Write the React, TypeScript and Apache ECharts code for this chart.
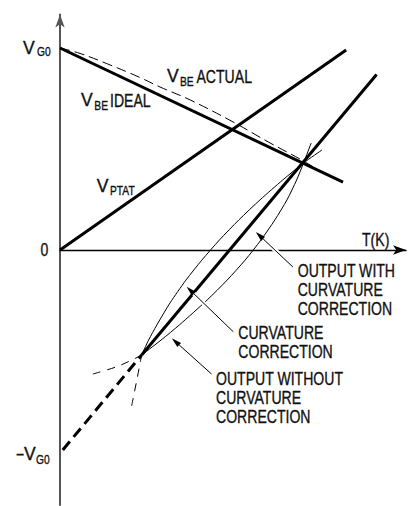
import React, { useEffect, useRef } from "react";
import * as echarts from "echarts";

// ---- data (T in normalised kelvin units, V in units of VG0) ----
const vbeIdeal = [[0, 1.0], [0.818, 0.336]];
const vptat = [[0, 0], [0.827, 0.99]];
const vbeActual = [
  [0, 1.0], [0.058, 0.973], [0.145, 0.916], [0.231, 0.854], [0.289, 0.807],
  [0.376, 0.743], [0.5, 0.634], [0.607, 0.53], [0.694, 0.45], [0.737, 0.406],
];
const outputExtrapolated = [[0.008, -0.99], [0.236, -0.52]];
const outputCorrected = [[0.236, -0.52], [0.915, 0.869]];
const correctionCurve = [
  [0.236, -0.52], [0.256, -0.446], [0.28, -0.371], [0.318, -0.262], [0.364, -0.149],
  [0.41, -0.05], [0.461, 0.05], [0.517, 0.149], [0.578, 0.248], [0.644, 0.347],
  [0.704, 0.431], [0.757, 0.495],
];
const correctionExtrapolated = [[0.207, -0.772], [0.222, -0.644], [0.236, -0.52]];
const uncorrectedCurve = [
  [0.236, -0.52], [0.292, -0.446], [0.345, -0.371], [0.425, -0.248], [0.483, -0.149],
  [0.535, -0.05], [0.581, 0.05], [0.621, 0.149], [0.656, 0.248], [0.684, 0.347],
  [0.704, 0.431], [0.726, 0.53],
];
const uncorrectedExtrapolated = [[0.095, -0.614], [0.164, -0.578], [0.212, -0.541], [0.236, -0.52]];
// arrows: [fromT, fromV, toT, toV]
const arrows = [
  [0.673, -0.084, 0.566, 0.089],
  [0.501, -0.405, 0.366, -0.182],
  [0.438, -0.614, 0.323, -0.437],
];

const axisMin = { t: 0, v: -1.262 };
const axisMax = { t: 1, v: 1.166 };

const labelOutputWith = ["OUTPUT WITH", "CURVATURE", "CORRECTION"];
const labelCorrection = ["CURVATURE", "CORRECTION"];
const labelOutputWithout = ["OUTPUT WITHOUT", "CURVATURE", "CORRECTION"];

const FONT = "'Liberation Sans', Arial, sans-serif";
const INK = "#111";
const NARROW = 0.76;
const MAIN = 18.5;
const SUB = 13.5;

function txt(text: string, x: number, y: number, size = MAIN, sx = NARROW, extra: any = {}) {
  return {
    type: "text",
    x,
    y,
    scaleX: sx,
    z: 20,
    style: {
      text,
      fill: INK,
      stroke: INK,
      lineWidth: 0.35,
      fontFamily: FONT,
      fontSize: size,
      align: "left",
      verticalAlign: "middle",
      ...extra,
    },
  };
}

function multi(lines: string[], x: number, firstCenter: number) {
  const lh = 19.2;
  return txt(lines.join("\n"), x, firstCenter - lh / 2, MAIN, NARROW, { verticalAlign: "top", lineHeight: lh });
}

export default function App() {
  const ref = useRef<HTMLDivElement>(null);
  useEffect(() => {
    if (!ref.current) return;
    const chart = echarts.init(ref.current, null, { renderer: "svg" });
    const thin = (dash: any) => ({ color: "#000", width: 1, type: dash });
    const lineS = (data: number[][], style: any, smooth: number | boolean = false) => ({
      type: "line",
      data,
      symbol: "none",
      smooth,
      silent: true,
      lineStyle: style,
      z: 3,
    });
    chart.setOption({
      animation: false,
      backgroundColor: "#fff",
      grid: { left: 60, top: 14.47, width: 346, height: 490.46, containLabel: false },
      xAxis: {
        type: "value",
        min: axisMin.t,
        max: axisMax.t,
        axisLine: {
          show: true,
          onZero: true,
          lineStyle: { color: "#000", width: 1.3 },
          symbol: ["none", "arrow"],
          symbolSize: [7, 13],
        },
        axisTick: { show: false },
        axisLabel: { show: false },
        splitLine: { show: false },
      },
      yAxis: {
        type: "value",
        min: axisMin.v,
        max: axisMax.v,
        axisLine: {
          show: true,
          onZero: false,
          lineStyle: { color: "#555", width: 2 },
          symbol: ["none", "arrow"],
          symbolSize: [7, 13],
        },
        axisTick: { show: false },
        axisLabel: { show: false },
        splitLine: { show: false },
      },
      series: [
        lineS(vbeActual, thin([10, 5]), 0.4),
        lineS(vbeIdeal, { color: "#000", width: 3 }),
        lineS(vptat, { color: "#000", width: 3 }),
        lineS(correctionCurve, thin("solid"), 0.25),
        lineS(correctionExtrapolated, thin([8, 7]), 0.25),
        lineS(uncorrectedCurve, thin("solid"), 0.25),
        lineS(uncorrectedExtrapolated, thin([8, 7]), 0.25),
        lineS(outputExtrapolated, { color: "#000", width: 3, type: [11, 6] }),
        lineS(outputCorrected, { color: "#000", width: 3 }),
        {
          type: "custom",
          silent: true,
          z: 10,
          data: arrows,
          renderItem: (params: any, api: any) => {
            const p1 = api.coord([api.value(0), api.value(1)]);
            const p2 = api.coord([api.value(2), api.value(3)]);
            const dx = p2[0] - p1[0];
            const dy = p2[1] - p1[1];
            const len = Math.hypot(dx, dy);
            const ux = dx / len;
            const uy = dy / len;
            const hl = 10;
            const hw = 2.8;
            const bx = p2[0] - ux * hl;
            const by = p2[1] - uy * hl;
            const nx = -uy;
            const ny = ux;
            return {
              type: "group",
              children: [
                { type: "line", shape: { x1: p1[0], y1: p1[1], x2: bx, y2: by }, style: { stroke: "#fff", lineWidth: 4.5 } },
                { type: "line", shape: { x1: p1[0], y1: p1[1], x2: bx, y2: by }, style: { stroke: "#000", lineWidth: 1 } },
                {
                  type: "polygon",
                  shape: { points: [[p2[0], p2[1]], [bx + nx * hw, by + ny * hw], [bx - nx * hw, by - ny * hw]] },
                  style: { fill: "#000" },
                },
              ],
            };
          },
        },
      ],
      graphic: [
        txt("V", 23, 47.5, MAIN, 0.95),
        txt("G0", 37, 51.5, SUB),
        txt("0", 40.5, 249),
        txt("T(K)", 362, 239.5),
        txt("V", 167, 76.3, MAIN, 0.95),
        txt("BE", 180, 81.5, SUB),
        txt("ACTUAL", 196.5, 76.3),
        txt("V", 81, 100, MAIN, 0.95),
        txt("BE", 94.3, 105, SUB),
        txt("IDEAL", 110, 100),
        txt("V", 96.7, 186.3, MAIN, 0.95),
        txt("PTAT", 110, 190.5, SUB),
        txt("\u2212", 16, 454),
        txt("V", 24, 454, MAIN, 0.95),
        txt("G0", 36, 459, SUB),
        multi(labelOutputWith, 297.7, 270.3),
        multi(labelCorrection, 238.3, 332.2),
        multi(labelOutputWithout, 216, 377.8),
      ],
    });
    return () => chart.dispose();
  }, []);
  return (
    <div
      ref={ref}
      style={{ position: "fixed", left: 0, top: 0, width: 415, height: 506, background: "#fff" }}
    />
  );
}
